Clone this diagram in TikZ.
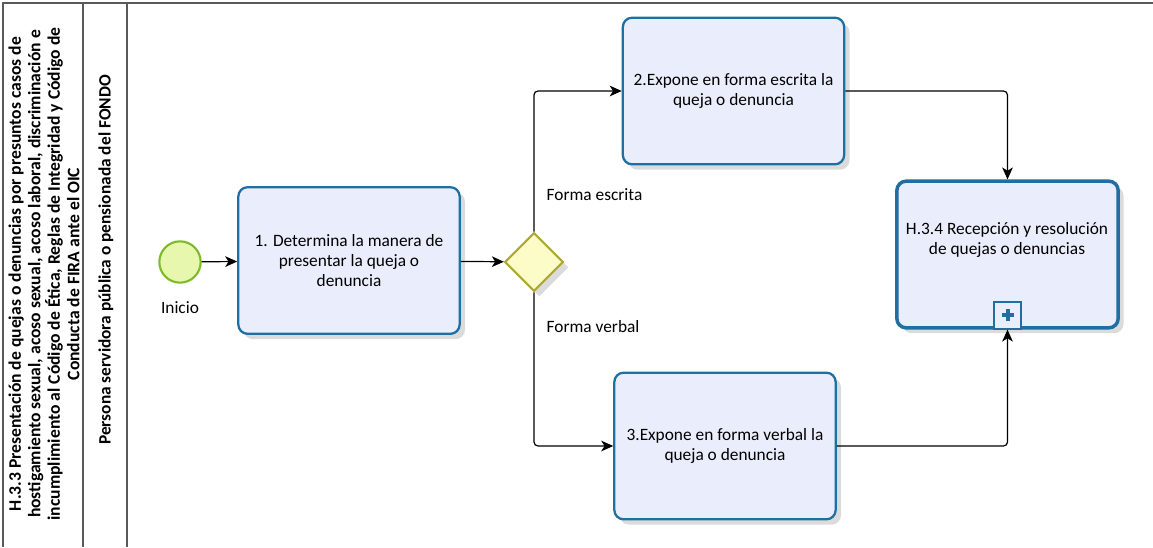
\documentclass[tikz,border=0pt]{standalone}
\usepackage{fontspec}
\setmainfont{Carlito}
\usetikzlibrary{shapes.geometric,arrows.meta,positioning,shadows}

\definecolor{taskblue}{HTML}{1F6FA3}
\definecolor{taskfill}{HTML}{EAEEFC}
\definecolor{startgreen}{HTML}{7DBB2A}
\definecolor{startfill}{HTML}{E8F7AE}
\definecolor{gwline}{HTML}{ABAA2C}
\definecolor{gwfill}{HTML}{FCFCC9}
\definecolor{poolgray}{HTML}{5A5A5A}

\tikzset{
  softshadow/.style={drop shadow={shadow xshift=4pt,shadow yshift=-4pt,opacity=0.2,fill=black!70}},
  task/.style={draw=taskblue, line width=1.7pt, fill=taskfill, rounded corners=7pt,
    minimum width=166pt, minimum height=110pt, align=center, softshadow},
  subproc/.style={task, line width=2.6pt},
  startev/.style={circle, draw=startgreen, line width=1.6pt, fill=startfill, minimum size=31pt, inner sep=0pt},
  gateway/.style={diamond, draw=gwline, line width=1.6pt, fill=gwfill, minimum size=44pt, inner sep=0pt, softshadow},
  flow/.style={draw=black, line width=0.9pt, rounded corners=3pt, -{Stealth[length=9pt,width=8pt,inset=2.5pt]}},
  poolline/.style={draw=poolgray, line width=0.8pt},
  flowlabel/.style={font=\fontsize{13}{15}\selectfont}
}

\begin{document}
\begin{tikzpicture}[x=0.75pt, y=-0.75pt, font=\fontsize{13}{15}\selectfont]
    \useasboundingbox (0,0) rectangle (1153,547);

    % pool and lane
    \draw[poolline] (1153,3) -- (3,3) -- (3,547);
    \draw[poolline] (83,3) -- (83,547);
    \draw[poolline] (127,3) -- (127,547);
    \node[rotate=90, align=center, inner sep=0pt, font=\bfseries\fontsize{13.2}{14.6}\selectfont] (pool) at (44,274)
        {H.3.3 Presentación de quejas o denuncias por presuntos casos de\\
         hostigamiento sexual, acoso sexual, acoso laboral, discriminación e\\
         incumplimiento al Código de Ética, Reglas de Integridad y Código de\\
         Conducta de FIRA ante el OIC};
    \node[rotate=90, font=\bfseries\fontsize{13}{15}\selectfont] (lane) at (106,260)
        {Persona servidora pública o pensionada del FONDO};

    \node[startev] (start) at (180,262) {};
    \node[below=10pt of start] (inicio) {Inicio};
    \node[task] (t1) at (349,260.5) {1. Determina la manera de\\presentar la queja o\\denuncia};
    \node[gateway] (gw) at (534,262) {};
    \node[task] (t2) at (733.5,91) {2.Expone en forma escrita la\\queja o denuncia};
    \node[task] (t3) at (725,446) {3.Expone en forma verbal la\\queja o denuncia};
    \node[subproc] (sub) at (1007.5,254.5) {};
    \node[align=center] (subtxt) at (1007,240) {H.3.4 Recepción y resolución\\de quejas o denuncias};
    \node[draw=taskblue, line width=1.2pt, fill=taskfill, minimum size=20pt, inner sep=0pt, anchor=south] (mark) at (sub.south) {};
    \draw[taskblue, line width=3pt] ([xshift=-4.5pt]mark.center) -- ([xshift=4.5pt]mark.center);
    \draw[taskblue, line width=3pt] ([yshift=-4.5pt]mark.center) -- ([yshift=4.5pt]mark.center);

    \node[flowlabel, anchor=west] (escrita) at (542,195) {Forma escrita};
    \node[flowlabel, anchor=west] (verbal) at (542,327) {Forma verbal};

    \draw[flow] (start) -- (t1);
    \draw[flow] (t1) -- (gw);
    \draw[flow] (gw.north) |- (t2.west);
    \draw[flow] (gw.south) |- (t3.west);
    \draw[flow] (t2.east) -| (sub.north);
    \draw[flow] (t3.east) -| (sub.south);
\end{tikzpicture}
\end{document}
